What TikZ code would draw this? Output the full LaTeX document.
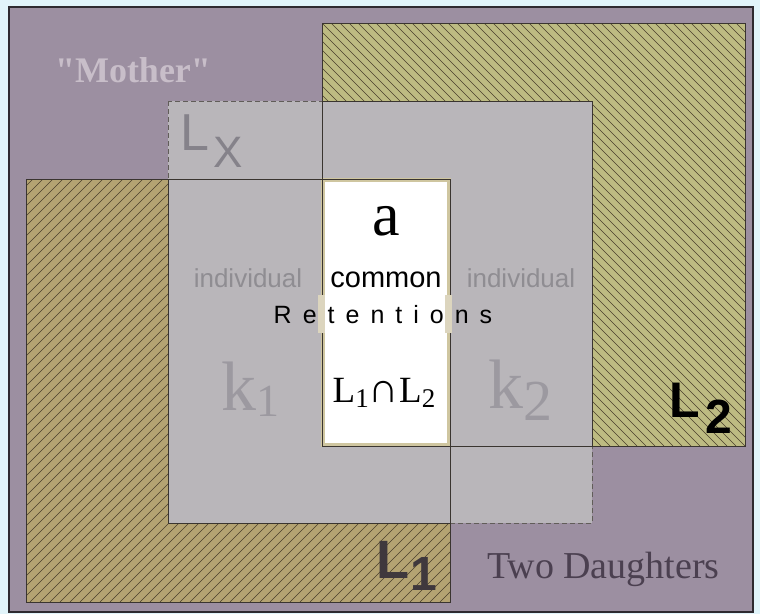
\documentclass[tikz,border=0pt]{standalone}
\usepackage{fontspec}
\setmainfont{Liberation Serif}
\setsansfont{Liberation Sans}
\newfontfamily\plainserif{Liberation Serif}
\definecolor{bgcyan}{HTML}{E1F4FA}
\definecolor{purp}{HTML}{9C8FA1}
\definecolor{framec}{HTML}{2E2A30}
\definecolor{grayc}{HTML}{B9B6BA}
\definecolor{lonec}{HTML}{B4A372}
\definecolor{ltwoc}{HTML}{BDBB82}
\definecolor{hatchc}{HTML}{4A3F2C}
\definecolor{linec}{HTML}{3A3530}
\definecolor{tanc}{HTML}{CFC6A0}
\definecolor{patchc}{HTML}{DCD5BE}
\definecolor{mothc}{HTML}{C8BEC9}
\definecolor{lxc}{HTML}{85828A}
\definecolor{indc}{HTML}{8F8D92}
\definecolor{kc}{HTML}{9C99A0}
\definecolor{lonelab}{HTML}{3F383D}
\definecolor{twoc}{HTML}{4B4050}
\begin{document}
\begin{tikzpicture}[x=1pt,y=-1pt,
  hatch/.style={draw=hatchc, line width=0.5pt},
  outline/.style={draw=linec, line width=0.9pt},
  txt/.style={inner sep=0pt, outer sep=0pt},
  sansf/.style={font=\sffamily\fontsize{#1}{#1}\selectfont},
  seriff/.style={font=\fontsize{#1}{#1}\selectfont}
]
\useasboundingbox (0,0) rectangle (760,614);
\fill[bgcyan] (0,0) rectangle (760,614);
% frame
\draw[draw=framec, line width=1.2pt, fill=purp] (9,7) rectangle (753,612);
% L1 hatched square
\fill[lonec] (26,179) rectangle (450,602);
\begin{scope}
  \clip (26,179) rectangle (450,602);
  \foreach \i in {-420,-410,...,460} \draw[hatch] (\i,602) -- ++(423,-423);
\end{scope}
% L2 hatched square
\fill[ltwoc] (322,23) rectangle (745,446);
\begin{scope}
  \clip (322,23) rectangle (745,446);
  \foreach \i in {-110,-101,...,750} \draw[hatch] (\i,23) -- ++(423,423);
\end{scope}
% Lx grey square
\fill[grayc] (168,101) rectangle (592,523);
\draw[draw=linec!80, line width=0.8pt, dash pattern=on 5pt off 3pt] (168,101) rectangle (592,523);
\begin{scope}
  \clip (26,179) rectangle (450,602);
  \draw[draw=linec, line width=0.8pt] (168,101) rectangle (592,523);
\end{scope}
\begin{scope}
  \clip (322,23) rectangle (745,446);
  \draw[draw=linec, line width=0.8pt] (168,101) rectangle (592,523);
\end{scope}
% common part
\draw[draw=tanc, line width=4pt, fill=white] (323,180) rectangle (449,445);
% outlines of L1 and L2
\draw[outline] (26,179) rectangle (450,602);
\draw[outline] (322,23) rectangle (745,446);
% breaks behind "Retentions"
\fill[patchc] (318,295) rectangle (325,333);
\fill[patchc] (445,295) rectangle (452,333);
% texts
\node[txt, anchor=base, text=mothc, font=\plainserif\bfseries\fontsize{36}{36}\selectfont] (mother) at (133,82) {"Mother"};
\node[txt, anchor=base west, text=lxc, sansf=52] (lxL) at (180,150) {L};
\node[txt, anchor=base west, text=lxc, sansf=44] (lxX) at (213,167) {X};
\node[txt, anchor=base, seriff=62] (a) at (386,235) {a};
\node[txt, anchor=base, sansf=29] (common) at (386,287) {common};
\node[txt, anchor=base, text=indc, sansf=26] (indl) at (248,287) {individual};
\node[txt, anchor=base, text=indc, sansf=26] (indr) at (521,287) {individual};
\node[txt, anchor=base, sansf=25] (ret) at (383,323) {R\kern11pt e\kern11pt t\kern11pt e\kern11pt n\kern11pt t\kern11pt i\kern11pt o\kern11pt n\kern11pt s};
\node[txt, anchor=base west, text=kc, seriff=70] (kone) at (221,410) {k\raisebox{-6pt}{\fontsize{46}{46}\selectfont 1}};
\node[txt, anchor=base west, text=kc, seriff=70] (ktwo) at (488,408) {k\raisebox{-12pt}{\fontsize{58}{58}\selectfont 2}};
\node[txt, anchor=base, seriff=37] (inter) at (384,402) {L\raisebox{-5pt}{\fontsize{27}{27}\selectfont 1}{\fontsize{42}{42}\selectfont ∩}L\raisebox{-5pt}{\fontsize{27}{27}\selectfont 2}};
\node[txt, anchor=base west, font=\sffamily\bfseries\fontsize{50}{50}\selectfont] (ltwoL) at (669,417) {L};
\node[txt, anchor=base west, font=\sffamily\bfseries\fontsize{48}{48}\selectfont] (ltwoN) at (705,433) {2};
\node[txt, anchor=base west, text=lonelab, font=\sffamily\bfseries\fontsize{54}{54}\selectfont] (loneL) at (376,578) {L};
\node[txt, anchor=base west, text=lonelab, font=\sffamily\bfseries\fontsize{48}{48}\selectfont] (loneN) at (410,590) {1};
\node[txt, anchor=base west, text=twoc, seriff=38] (two) at (487,578) {Two Daughters};
\end{tikzpicture}
\end{document}
